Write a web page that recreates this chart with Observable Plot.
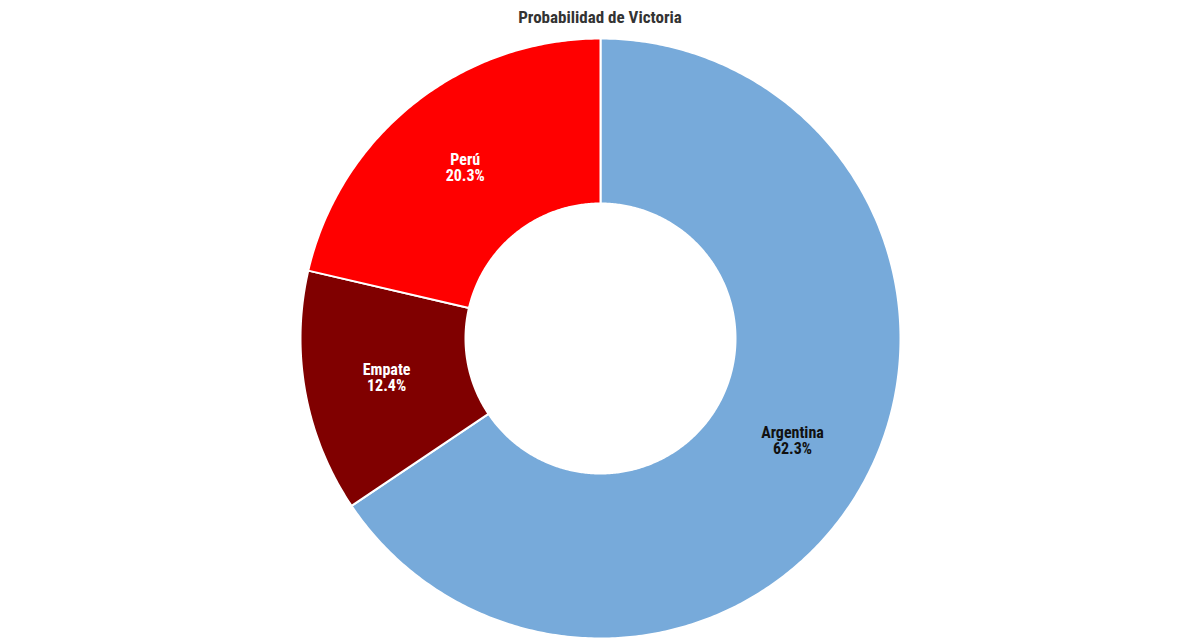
<!DOCTYPE html>
<html>
<head>
<meta charset="utf-8">
<script src="https://cdn.jsdelivr.net/npm/d3@7"></script>
<script src="https://cdn.jsdelivr.net/npm/@observablehq/plot@0.6"></script>
<style>
  html, body { margin: 0; padding: 0; background: #fff; }
  #title { height: 34px; line-height: 34px; text-align: center; font-family: "Roboto Condensed", "Liberation Sans Narrow", Roboto, sans-serif; font-stretch: condensed; font-weight: bold; font-size: 17px; color: #333; }
  #chart svg { display: block; }
</style>
</head>
<body>
<div id="title">Probabilidad de Victoria</div>
<div id="chart"></div>
<script>
const categories = ["Argentina", "Empate", "Perú"];
const values = [62.3, 12.4, 20.3];
const sliceColors = ["#77AADA", "#800000", "#FF0000"];
const labelColors = ["#111111", "#FFFFFF", "#FFFFFF"];

const W = 1200, H = 606, CX = 600, CY = 304;
const R_OUT = 300, R_IN = 135;

const slices = categories.map((c, i) => ({ name: c, value: values[i], color: sliceColors[i], labelColor: labelColors[i] }));
const arcs = d3.pie().sort(null).value(d => d.value).startAngle(0).endAngle(2 * Math.PI)(slices);

const poly = [];
const labels = [];
for (const a of arcs) {
  const n = Math.max(8, Math.ceil((a.endAngle - a.startAngle) / 0.01));
  for (let k = 0; k <= n; k++) {
    const t = a.startAngle + (a.endAngle - a.startAngle) * k / n;
    poly.push({ name: a.data.name, x: R_OUT * Math.sin(t), y: R_OUT * Math.cos(t) });
  }
  for (let k = n; k >= 0; k--) {
    const t = a.startAngle + (a.endAngle - a.startAngle) * k / n;
    poly.push({ name: a.data.name, x: R_IN * Math.sin(t), y: R_IN * Math.cos(t) });
  }
  const mid = (a.startAngle + a.endAngle) / 2;
  const rm = (R_OUT + R_IN) / 2;
  labels.push({ name: a.data.name, x: rm * Math.sin(mid), y: rm * Math.cos(mid), text: `${a.data.name}\n${a.data.value.toFixed(1)}%`, color: a.data.labelColor });
}

const chart = Plot.plot({
  width: W,
  height: H,
  margin: 0,
  x: { domain: [-CX, W - CX], range: [0, W], axis: null },
  y: { domain: [-(H - CY), CY], range: [H, 0], axis: null },
  color: { domain: categories, range: sliceColors },
  style: { fontFamily: '"Roboto Condensed", "Liberation Sans Narrow", Roboto, sans-serif', background: "#fff" },
  marks: [
    Plot.line(poly, { x: "x", y: "y", z: "name", fill: "name", stroke: "#fff", strokeWidth: 2, curve: "linear-closed", strokeLinejoin: "round" }),
    Plot.text(labels, { x: "x", y: "y", text: "text", fill: d => d.color, fontSize: 16, fontWeight: "bold", lineHeight: 1.0 })
  ]
});
chart.querySelectorAll("text").forEach(t => t.setAttribute("font-stretch", "condensed"));
document.getElementById("chart").appendChild(chart);
</script>
</body>
</html>
